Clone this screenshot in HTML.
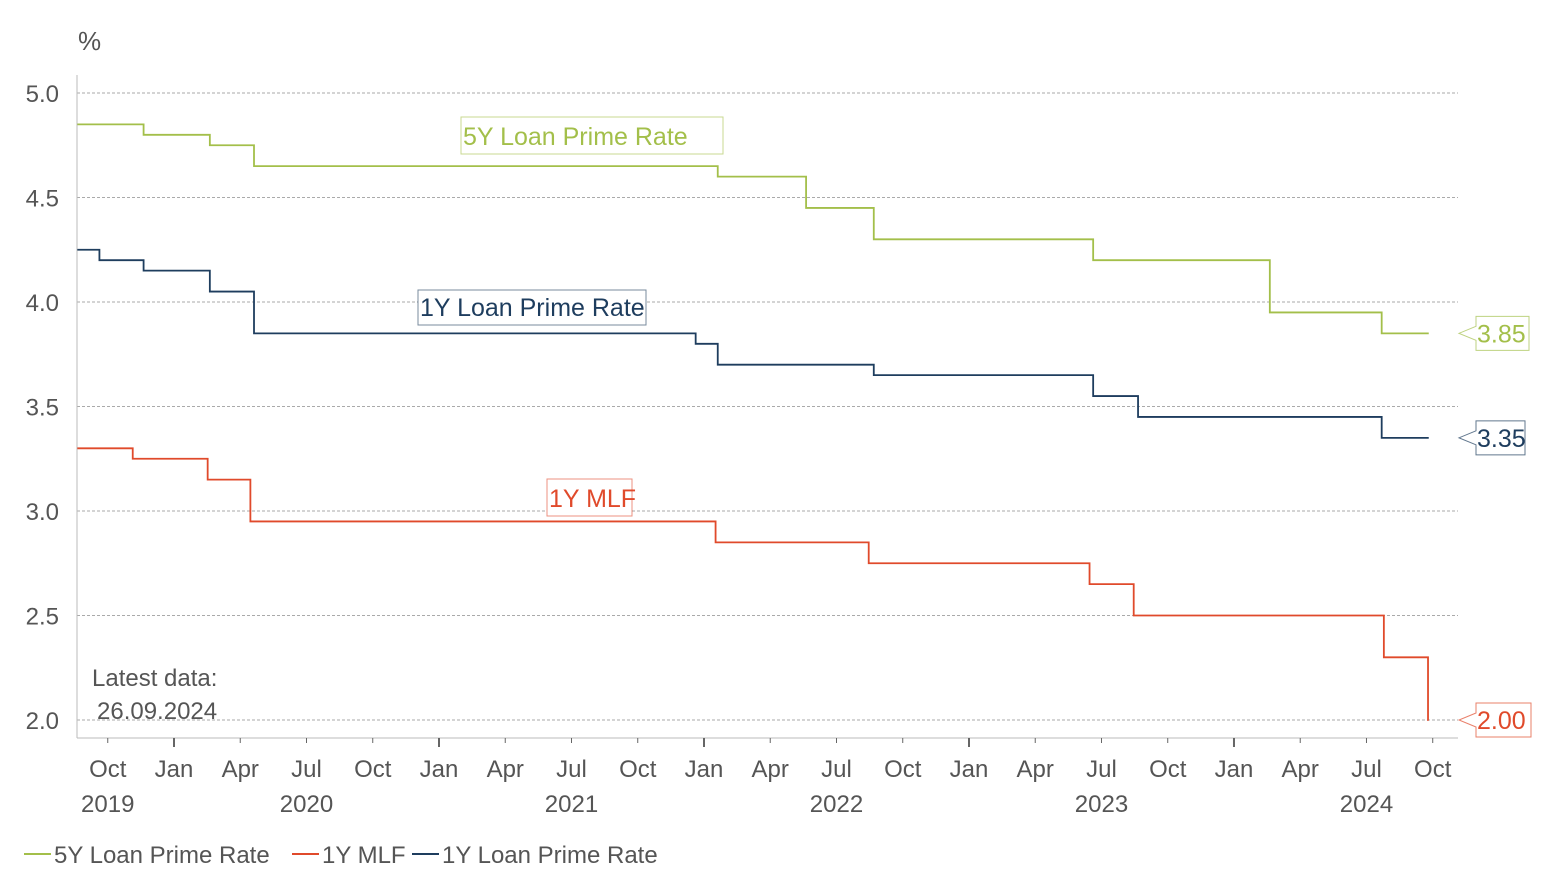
<!DOCTYPE html>
<html><head><meta charset="utf-8"><style>
body{margin:0;background:#fff;}
svg text{font-family:"Liberation Sans",sans-serif;}
</style></head><body>
<svg id="chart" width="1551" height="891" xmlns="http://www.w3.org/2000/svg">
<g id="grid"></g><g id="axes"></g><g id="series"></g><g id="labels"></g>
</svg>
<script>
const yTicks=[2.0,2.5,3.0,3.5,4.0,4.5,5.0];
const monthLabels=["Oct","Jan","Apr","Jul","Oct","Jan","Apr","Jul","Oct","Jan","Apr","Jul","Oct","Jan","Apr","Jul","Oct","Jan","Apr","Jul","Oct"];
const yearLabels=["2019","2020","2021","2022","2023","2024"];
const lpr5Dates=["2019-08-20","2019-11-20","2020-02-20","2020-04-20","2022-01-20","2022-05-20","2022-08-22","2023-06-20","2024-02-20","2024-07-22","2024-09-26"];
const lpr5Vals=[4.85,4.80,4.75,4.65,4.60,4.45,4.30,4.20,3.95,3.85,3.85];
const lpr1Dates=["2019-08-20","2019-09-20","2019-11-20","2020-02-20","2020-04-20","2021-12-20","2022-01-20","2022-08-22","2023-06-20","2023-08-21","2024-07-22","2024-09-26"];
const lpr1Vals=[4.25,4.20,4.15,4.05,3.85,3.80,3.70,3.65,3.55,3.45,3.35,3.35];
const mlfDates=["2019-08-20","2019-11-05","2020-02-17","2020-04-15","2022-01-17","2022-08-15","2023-06-15","2023-08-15","2024-07-25","2024-09-25","2024-09-26"];
const mlfVals=[3.30,3.25,3.15,2.95,2.85,2.75,2.65,2.50,2.30,2.00,2.00];

const NS="http://www.w3.org/2000/svg";
const C={g:"#a3bf4a",n:"#1e3d5e",r:"#e04a2b",t:"#555"};
function X(ds){const [y,m,d]=ds.split("-").map(Number);return 174+((y-2020)*12+(m-1)+(d-1)/30.5)*22.083;}
function XM(y,m){return 174+((y-2020)*12+(m-1))*22.083;}
function Y(v){return 93+(5-v)*209;}
function el(t,a,p,txt){const e=document.createElementNS(NS,t);for(const k in a)e.setAttribute(k,a[k]);if(txt!==undefined)e.textContent=txt;document.getElementById(p).appendChild(e);return e;}

yTicks.forEach(v=>{
 const g=el("line",{x1:77,x2:1458,y1:Y(v),y2:Y(v),stroke:"#aaa","stroke-dasharray":"3,2","stroke-width":1},"grid");
 
 
 const t=el("text",{x:59,y:Y(v)+9,"text-anchor":"end","font-size":24,fill:C.t},"axes",v.toFixed(1));
 
 
});
const pu=el("text",{x:78,y:50,"font-size":26,fill:C.t},"axes","%");


el("line",{x1:77,x2:77,y1:75,y2:738,stroke:"#bbb"},"axes");
el("line",{x1:77,x2:1458,y1:738,y2:738,stroke:"#bbb"},"axes");
for(let i=0;i<21;i++){
 const yr=2019+Math.floor((9+3*i)/12), m=((9+3*i)%12)+1;
 const x=XM(yr,m);
 const tk=el("line",{x1:x,x2:x,y1:738,y2:m===1?747:743,stroke:"#666","stroke-width":m===1?2:1},"axes");
 
 
 const t=el("text",{x:x,y:777,"text-anchor":"middle","font-size":24,fill:C.t},"axes",monthLabels[i]);
 
 
}
yearLabels.forEach((l,i)=>{
 const x=i===0?XM(2019,10):XM(2020+i-1,7);
 const t=el("text",{x:x,y:812,"text-anchor":"middle","font-size":24,fill:C.t},"axes",l);
 
 
});
function step(ds,vs,col,name){
 let d="";ds.forEach((s,i)=>{const x=X(s),y=Y(vs[i]);d+=i===0?`M${x},${y}`:`H${x}V${y}`;});
 const p=el("path",{d:d,fill:"none",stroke:col,"stroke-width":1.8},"series");
 
 
}
step(lpr5Dates,lpr5Vals,C.g,'series-5y-lpr');
step(lpr1Dates,lpr1Vals,C.n,'series-1y-lpr');
step(mlfDates,mlfVals,C.r,'series-1y-mlf');

function box(x,y,w,h,txt,col,name){
 const r=el("rect",{x:x,y:y,width:w,height:h,fill:"#fff",stroke:col,"stroke-opacity":0.6},"labels");
 
 
 const t=el("text",{x:x+2,y:y+h-9,"font-size":25,fill:col},"labels",txt);
 
 
}
box(461,117,262,37,"5Y Loan Prime Rate",C.g,'label-5y-lpr');
box(418,290,228,35,"1Y Loan Prime Rate",C.n,'label-1y-lpr');
box(547,479,85,37,"1Y MLF",C.r,'label-1y-mlf');
function endLab(v,txt,col,w,name){
 const y=Y(v);
 const p=el("path",{d:`M1476,${y-17}H${1476+w}V${y+17}H1476V${y+7}L1459,${y}L1476,${y-7}Z`,fill:"#fff",stroke:col,"stroke-opacity":0.7},"labels");
 
 
 const t=el("text",{x:1477,y:y+9,"font-size":25,fill:col},"labels",txt);
 
 
}
endLab(lpr5Vals[lpr5Vals.length-1],"3.85",C.g,53,'end-label-5y-lpr');
endLab(lpr1Vals[lpr1Vals.length-1],"3.35",C.n,49,'end-label-1y-lpr');
endLab(mlfVals[mlfVals.length-1],"2.00",C.r,55,'end-label-1y-mlf');

const n1=el("text",{x:92,y:686,"font-size":24,fill:C.t},"labels","Latest data:");


const n2=el("text",{x:97,y:719,"font-size":24,fill:C.t},"labels","26.09.2024");



[[24,"5Y Loan Prime Rate",C.g,'legend-5y-lpr'],[292,"1Y MLF",C.r,'legend-1y-mlf'],[412,"1Y Loan Prime Rate",C.n,'legend-1y-lpr']].forEach(a=>{
 const l=el("line",{x1:a[0],x2:a[0]+27,y1:854,y2:854,stroke:a[2],"stroke-width":2},"labels");
 
 
 const t=el("text",{x:a[0]+30,y:863,"font-size":24,fill:C.t},"labels",a[1]);
 
 
});
</script>
</body></html>
